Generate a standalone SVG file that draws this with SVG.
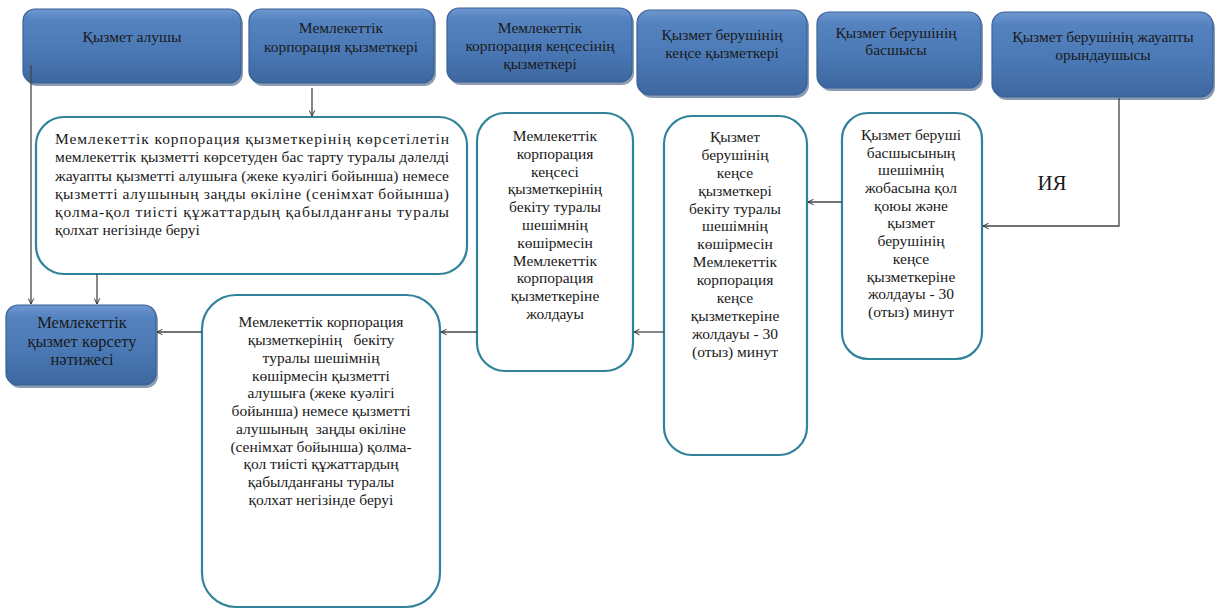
<svg xmlns="http://www.w3.org/2000/svg" width="1217" height="610" viewBox="0 0 1217 610" font-family="'Liberation Serif', 'DejaVu Serif', 'Times New Roman', serif">
<defs>
<linearGradient id="blue" x1="0" y1="0" x2="0" y2="1">
<stop offset="0" stop-color="#6d97cf"/>
<stop offset="0.15" stop-color="#5583c0"/>
<stop offset="0.55" stop-color="#4b79b6"/>
<stop offset="1" stop-color="#3d679f"/>
</linearGradient>
<marker id="arr" viewBox="0 0 10 10" refX="9" refY="5" markerWidth="7" markerHeight="7" orient="auto" markerUnits="userSpaceOnUse">
<path d="M1,1 L9,5 L1,9" fill="none" stroke="#333" stroke-width="1.4"/>
</marker>
</defs>
<style>
.hdr{fill:url(#blue);stroke:#3a6196;stroke-width:1.2}
.shd{fill:#2b4a75;opacity:0.55}
.proc{fill:#fff;stroke:#31839a;stroke-width:2.2}
.t{font-family:'Liberation Serif','DejaVu Serif','Times New Roman',serif;font-size:15.5px;fill:#1a1a1a}
.c{text-anchor:middle}
.conn{fill:none;stroke:#444;stroke-width:1.3}
.lbl{font-size:21px}
</style>

<g id="h1">
<rect class="shd" x="25" y="12" width="218" height="74" rx="12"/>
<rect class="hdr" x="23" y="9" width="218" height="74" rx="12"/>
<text class="t c" x="132" y="42">Қызмет алушы</text>
</g>
<g id="h2">
<rect class="shd" x="251" y="12" width="185" height="74" rx="12"/>
<rect class="hdr" x="249" y="9" width="185" height="74" rx="12"/>
<text class="t c" x="341" y="33">Мемлекеттік</text>
<text class="t c" x="341" y="52">корпорация қызметкері</text>
</g>
<g id="h3">
<rect class="shd" x="449" y="11" width="185" height="74" rx="12"/>
<rect class="hdr" x="447" y="8" width="185" height="74" rx="12"/>
<text class="t c" x="540" y="33">Мемлекеттік</text>
<text class="t c" x="540" y="51">корпорация кеңсесінің</text>
<text class="t c" x="540" y="69">қызметкері</text>
</g>
<g id="h4">
<rect class="shd" x="639" y="13" width="170" height="85" rx="13"/>
<rect class="hdr" x="637" y="10" width="170" height="85" rx="13"/>
<text class="t c" x="722" y="40">Қызмет берушінің</text>
<text class="t c" x="722" y="58">кеңсе қызметкері</text>
</g>
<g id="h5">
<rect class="shd" x="819" y="15" width="164" height="76" rx="12"/>
<rect class="hdr" x="817" y="12" width="164" height="76" rx="12"/>
<text class="t c" x="896" y="38">Қызмет берушінің</text>
<text class="t c" x="896" y="55">басшысы</text>
</g>
<g id="h6">
<rect class="shd" x="994" y="15" width="221" height="85" rx="13"/>
<rect class="hdr" x="992" y="12" width="221" height="85" rx="13"/>
<text class="t c" x="1103" y="42">Қызмет берушінің жауапты</text>
<text class="t c" x="1103" y="60">орындаушысы</text>
</g>

<g id="result">
<rect class="shd" x="8" y="308" width="150" height="80" rx="12"/>
<rect class="hdr" x="6" y="305" width="150" height="80" rx="12"/>
<text class="t c" x="82" y="328" style="font-size:16.5px">Мемлекеттік</text>
<text class="t c" x="82" y="347" style="font-size:16.5px">қызмет көрсету</text>
<text class="t c" x="82" y="365" style="font-size:16.5px">нәтижесі</text>
</g>

<g id="boxA">
<rect class="proc" x="36" y="117" width="431" height="157" rx="28"/>
<text class="t" x="55" y="144" textLength="394" lengthAdjust="spacing">Мемлекеттік корпорация қызметкерінің көрсетілетін</text>
<text class="t" x="55" y="162" textLength="394" lengthAdjust="spacing">мемлекеттік қызметті көрсетуден бас тарту туралы дәлелді</text>
<text class="t" x="55" y="181" textLength="394" lengthAdjust="spacing">жауапты қызметті алушыға (жеке куәлігі бойынша) немесе</text>
<text class="t" x="55" y="199" textLength="394" lengthAdjust="spacing">қызметті алушының заңды өкіліне (сенімхат бойынша)</text>
<text class="t" x="55" y="217" textLength="394" lengthAdjust="spacing">қолма-қол тиісті құжаттардың қабылданғаны туралы</text>
<text class="t" x="55" y="235">қолхат негізінде беруі</text>
</g>

<g id="boxB">
<rect class="proc" x="477" y="113" width="156" height="258" rx="28"/>
<text class="t c" x="555" y="141">Мемлекеттік</text>
<text class="t c" x="555" y="159">корпорация</text>
<text class="t c" x="555" y="177">кеңсесі</text>
<text class="t c" x="555" y="194">қызметкерінің</text>
<text class="t c" x="555" y="212">бекіту туралы</text>
<text class="t c" x="555" y="230">шешімнің</text>
<text class="t c" x="555" y="248">көшірмесін</text>
<text class="t c" x="555" y="266">Мемлекеттік</text>
<text class="t c" x="555" y="283">корпорация</text>
<text class="t c" x="555" y="301">қызметкеріне</text>
<text class="t c" x="555" y="319">жолдауы</text>
</g>

<g id="boxC">
<rect class="proc" x="664" y="116" width="143" height="339" rx="28"/>
<text class="t c" x="735" y="142">Қызмет</text>
<text class="t c" x="735" y="160">берушінің</text>
<text class="t c" x="735" y="178">кеңсе</text>
<text class="t c" x="735" y="196">қызметкері</text>
<text class="t c" x="735" y="214">бекіту туралы</text>
<text class="t c" x="735" y="231">шешімнің</text>
<text class="t c" x="735" y="249">көшірмесін</text>
<text class="t c" x="735" y="267">Мемлекеттік</text>
<text class="t c" x="735" y="285">корпорация</text>
<text class="t c" x="735" y="303">кеңсе</text>
<text class="t c" x="735" y="321">қызметкеріне</text>
<text class="t c" x="735" y="339">жолдауы - 30</text>
<text class="t c" x="735" y="357">(отыз) минут</text>
</g>

<g id="boxD">
<rect class="proc" x="842" y="113" width="140" height="246" rx="26"/>
<text class="t c" x="911" y="140">Қызмет беруші</text>
<text class="t c" x="911" y="158">басшысының</text>
<text class="t c" x="911" y="175">шешімнің</text>
<text class="t c" x="911" y="193">жобасына қол</text>
<text class="t c" x="911" y="211">қоюы және</text>
<text class="t c" x="911" y="228">қызмет</text>
<text class="t c" x="911" y="246">берушінің</text>
<text class="t c" x="911" y="264">кеңсе</text>
<text class="t c" x="911" y="282">қызметкеріне</text>
<text class="t c" x="911" y="299">жолдауы - 30</text>
<text class="t c" x="911" y="317">(отыз) минут</text>
</g>

<g id="boxE">
<rect class="proc" x="202" y="295" width="238" height="312" rx="34"/>
<text class="t c" x="321" y="327">Мемлекеттік корпорация</text>
<text class="t c" x="321" y="345" xml:space="preserve">қызметкерінің   бекіту</text>
<text class="t c" x="321" y="363">туралы шешімнің</text>
<text class="t c" x="321" y="381">көшірмесін қызметті</text>
<text class="t c" x="321" y="398">алушыға (жеке куәлігі</text>
<text class="t c" x="321" y="416">бойынша) немесе қызметті</text>
<text class="t c" x="321" y="434" xml:space="preserve">алушының  заңды өкіліне</text>
<text class="t c" x="321" y="452">(сенімхат бойынша) қолма-</text>
<text class="t c" x="321" y="469">қол тиісті құжаттардың</text>
<text class="t c" x="321" y="487">қабылданғаны туралы</text>
<text class="t c" x="321" y="505">қолхат негізінде беруі</text>
</g>

<g id="connectors">
<path class="conn" d="M31,65 V304" marker-end="url(#arr)"/>
<path class="conn" d="M97,274 V304" marker-end="url(#arr)"/>
<path class="conn" d="M312,88 V116" marker-end="url(#arr)"/>
<path class="conn" d="M1119,98 V226 H983" marker-end="url(#arr)"/>
<path class="conn" d="M842,202 H808" marker-end="url(#arr)"/>
<path class="conn" d="M664,332 H634" marker-end="url(#arr)"/>
<path class="conn" d="M477,332 H441" marker-end="url(#arr)"/>
<path class="conn" d="M202,332 H157" marker-end="url(#arr)"/>
<text class="t lbl c" x="1052" y="190">ИЯ</text>
</g>
</svg>
